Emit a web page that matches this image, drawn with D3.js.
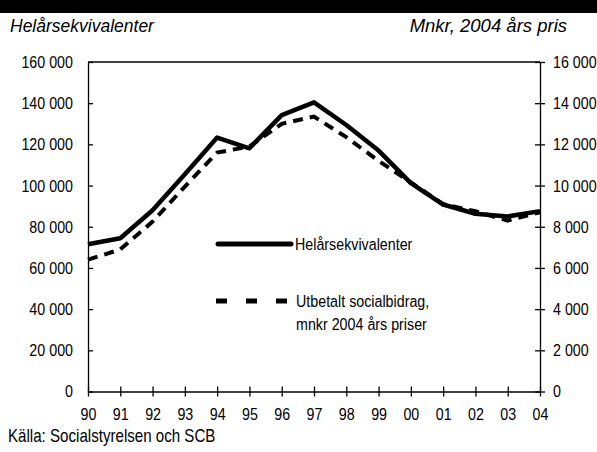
<!DOCTYPE html>
<html>
<head>
<meta charset="utf-8">
<script src="https://cdn.jsdelivr.net/npm/d3@7"></script>
<style>
  body { margin: 0; background: #fff; }
  svg { display: block; }
  .narrow { font-family: "Liberation Sans", Arial, sans-serif; font-size: 17px; fill: #000; }
  .head { font-family: "Liberation Sans", Arial, sans-serif; font-style: italic; font-size: 17.5px; fill: #000; }
</style>
</head>
<body>
<div id="chart"></div>
<script>
// år (tick labels)
const years = ["90", "91", "92", "93", "94", "95", "96", "97", "98", "99", "00", "01", "02", "03", "04"];
// helårsekvivalenter, vänster axel
const helars = [71500, 74400, 88000, 105500, 123300, 118100, 134200, 140400, 129400, 117000, 101200, 90800, 86300, 85000, 87600];
// utbetalt socialbidrag, mnkr 2004 års priser, höger axel
const bidrag = [6400, 6900, 8250, 9950, 11600, 11900, 13000, 13350, 12350, 11200, 10150, 9100, 8750, 8300, 8700];
const leftTicks = [0, 20000, 40000, 60000, 80000, 100000, 120000, 140000, 160000];
const rightTicks = [0, 2000, 4000, 6000, 8000, 10000, 12000, 14000, 16000];

const W = 597, H = 452;
const plotL = 88, plotR = 540, plotT = 62, plotB = 391.5;
const squeeze = 0.84; // smal typsnitt: Liberation Sans ihoptryckt

const fmt = d3.formatLocale({decimal: ",", thousands: " ", grouping: [3], currency: ["", ""]}).format(",d");

// flytta x/y in i transform och tryck ihop texten horisontellt
function narrow (sel) {
    sel.each(function () {
        const t = d3.select(this),
            tx = +t.attr("x") || 0,
            ty = +t.attr("y") || 0;
        t.attr("x", 0).attr("y", 0).
            attr("transform", `translate(${tx},${ty}) scale(${squeeze},1)`);
    });
}

const svg = d3.select("#chart").append("svg").
    attr("width", W).
    attr("height", H);

// svart list överst
svg.append("rect").
    attr("x", 0).attr("y", 0).
    attr("width", W).attr("height", 13).
    attr("fill", "#000");

svg.append("text").attr("class", "head").
    attr("x", 10).attr("y", 32).
    text("Helårsekvivalenter");
svg.append("text").attr("class", "head").
    attr("x", 567).attr("y", 32).
    attr("text-anchor", "end").
    style("font-size", "18.5px").
    text("Mnkr, 2004 års pris");

const x = d3.scalePoint().domain(years).range([plotL, plotR]).padding(0);
const yL = d3.scaleLinear().domain([0, 160000]).range([plotB, plotT]);
const yR = d3.scaleLinear().domain([0, 16000]).range([plotB, plotT]);

// ram överst
svg.append("line").
    attr("x1", plotL).attr("x2", plotR).
    attr("y1", yL(160000)).attr("y2", yL(160000)).
    attr("stroke", "#000").attr("stroke-width", 1.3);

const gL = svg.append("g").
    attr("transform", `translate(${plotL},0)`).
    call(d3.axisLeft(yL).tickValues(leftTicks).tickFormat(fmt).tickSizeInner(-5).tickSizeOuter(0).tickPadding(15));

const gR = svg.append("g").
    attr("transform", `translate(${plotR},0)`).
    call(d3.axisRight(yR).tickValues(rightTicks).tickFormat(fmt).tickSizeInner(5).tickSizeOuter(0).tickPadding(8));
gR.selectAll(".tick line").attr("x1", -5);

const gX = svg.append("g").
    attr("transform", `translate(0,${plotB})`).
    call(d3.axisBottom(x).tickSizeInner(5).tickSizeOuter(0).tickPadding(11));
gX.selectAll(".tick line").attr("y1", -5);

[gL, gR, gX].forEach((g) => {
    g.selectAll("path, line").attr("stroke", "#000").attr("stroke-width", 1.3);
    g.selectAll("text").attr("class", "narrow").attr("fill", "#000").call(narrow);
    g.attr("font-family", null).attr("font-size", null);
});

const lineL = d3.line().x((d, i) => x(years[i])).y((d) => yL(d));
const lineR = d3.line().x((d, i) => x(years[i])).y((d) => yR(d));

svg.append("path").
    datum(bidrag).
    attr("d", lineR).
    attr("fill", "none").
    attr("stroke", "#000").
    attr("stroke-width", 4).
    attr("stroke-dasharray", "10,7");

svg.append("path").
    datum(helars).
    attr("d", lineL).
    attr("fill", "none").
    attr("stroke", "#000").
    attr("stroke-width", 4.5).
    attr("stroke-linejoin", "round");

// legend
svg.append("line").
    attr("x1", 218).attr("x2", 291).
    attr("y1", 244).attr("y2", 244).
    attr("stroke", "#000").attr("stroke-width", 5).
    attr("stroke-linecap", "round");
svg.append("text").attr("class", "narrow").
    attr("x", 295).attr("y", 250).
    text("Helårsekvivalenter");

svg.append("line").
    attr("x1", 216).attr("x2", 287).
    attr("y1", 301).attr("y2", 301).
    attr("stroke", "#000").attr("stroke-width", 5).
    attr("stroke-dasharray", "11,19");
svg.append("text").attr("class", "narrow").
    attr("x", 296).attr("y", 307).
    text("Utbetalt socialbidrag,");
svg.append("text").attr("class", "narrow").
    attr("x", 296).attr("y", 330).
    text("mnkr 2004 års priser");

svg.append("text").attr("class", "narrow").
    attr("x", 8).attr("y", 442).
    style("font-size", "18px").
    text("Källa: Socialstyrelsen och SCB");

svg.selectAll("text.narrow").filter(function () {
    return !this.closest(".tick");
}).call(narrow);
</script>
</body>
</html>
